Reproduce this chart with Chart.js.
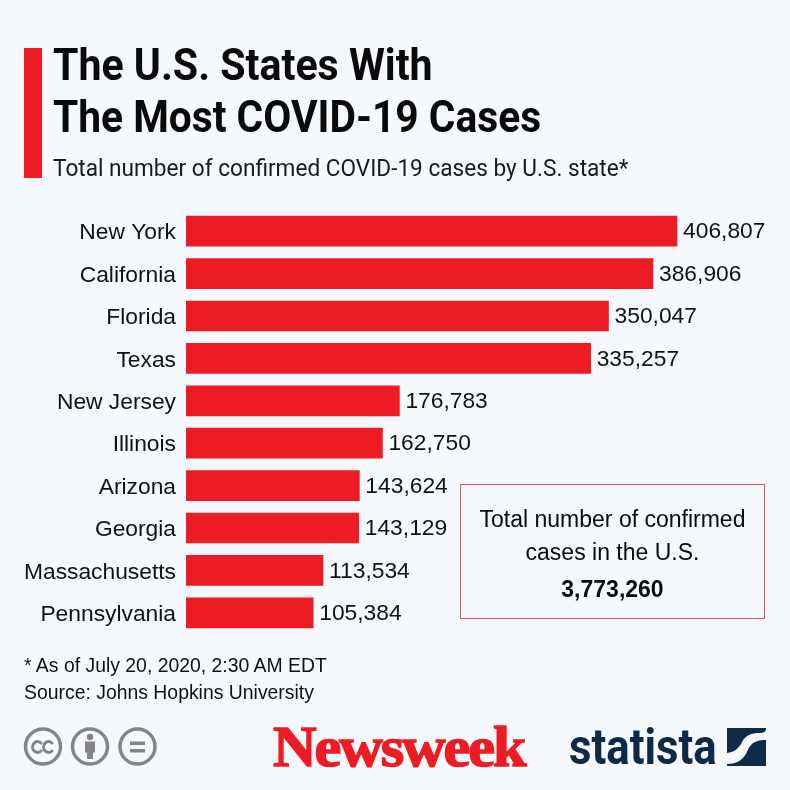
<!DOCTYPE html>
<html>
<head>
<meta charset="utf-8">
<script src="https://cdn.jsdelivr.net/npm/chart.js@4"></script>
<style>
  html, body { margin: 0; padding: 0; background: #f5f8fc; }
  #page { position: relative; width: 790px; height: 790px; overflow: hidden; background: #f5f8fc; color: #0a0a0a; }
  #page > * { position: absolute; }
  canvas { left: 0; top: 0; }
  .redbar { left: 24px; top: 48px; width: 18px; height: 130px; background: #ed1c24; }
  .cond { font-family: Roboto, sans-serif; transform-origin: left top; white-space: nowrap; }
  .title { left: 53px; font-size: 45px; font-weight: 700; line-height: 52px; transform: scaleX(0.905); }
  .subtitle { left: 53px; top: 153px; font-size: 24px; font-weight: 400; line-height: 30px; color: #1a1a1a; transform: scaleX(0.942); }
  .note { left: 24px; font: 19.4px "Liberation Sans", Arial, sans-serif; line-height: 22px; white-space: nowrap; color: #111; }
  .box { left: 460px; top: 484px; width: 303px; height: 133px; border: 1.5px solid #e2505c; text-align: center; font: 23px "Liberation Sans", Arial, sans-serif; }
  .box div { position: absolute; left: 0; right: 0; line-height: 30px; }
  .newsweek { left: 273px; top: 718px; font: 700 58px "Liberation Serif", serif; line-height: 58px; color: #ed1c24; letter-spacing: -2px; transform-origin: left top; transform: scaleX(1.04); white-space: nowrap; -webkit-text-stroke: 1.5px #ed1c24; }
  .statista { left: 569px; top: 718px; font: 700 50px Roboto, sans-serif; line-height: 58px; color: #0f2a47; transform-origin: left top; transform: scaleX(0.875); white-space: nowrap; }
</style>
</head>
<body>
<div id="page">
  <canvas id="casesChart" width="790" height="790"></canvas>
  <div class="redbar"></div>
  <div class="cond title" style="top:39px;transform:scaleX(0.913)">The U.S. States With</div>
  <div class="cond title" style="top:91px">The Most COVID-19 Cases</div>
  <div class="cond subtitle">Total number of confirmed COVID-19 cases by U.S. state*</div>
  <div class="box">
    <div style="top:19px">Total number of confirmed</div>
    <div style="top:52px">cases in the U.S.</div>
    <div style="top:89px;font-weight:700">3,773,260</div>
  </div>
  <div class="note" style="top:654px">* As of July 20, 2020, 2:30 AM EDT</div>
  <div class="note" style="top:681px">Source: Johns Hopkins University</div>
  <svg style="left:0;top:0" width="790" height="790" fill="none">
    <g stroke="#858585" stroke-width="3.5">
      <circle cx="43" cy="746.500" r="17.500"/>
      <circle cx="90" cy="746.500" r="17.500"/>
      <circle cx="137.500" cy="746.500" r="17.500"/>
    </g>
    <g stroke="#858585" stroke-width="3" stroke-linecap="round">
      <path d="M41 743a5 5.500 0 1 0 0 8"/>
      <path d="M52 743a5 5.500 0 1 0 0 8"/>
    </g>
    <g fill="#858585">
      <circle cx="90" cy="737" r="3.200"/>
      <path d="M85 741.500h10v11h-2v6.500h-6v-6.500h-2z"/>
      <rect x="130" y="741.500" width="15" height="3.500"/>
      <rect x="130" y="749" width="15" height="3.500"/>
    </g>
    <path fill="#0f2a47" d="M727 728h39c0 3-1 5-6 5c-9 0-14 2-18 9c-3 6-7 10-15 11z"/>
    <path fill="#0f2a47" d="M766 740v26h-39v-2c10 0 16-4 20-12c3-8 8-12 19-12z"/>
  </svg>
  <div class="newsweek">Newsweek</div>
  <div class="statista">statista</div>
</div>

<script>
const states = ['New York', 'California', 'Florida', 'Texas', 'New Jersey', 'Illinois', 'Arizona', 'Georgia', 'Massachusetts', 'Pennsylvania'];
const cases = [406807, 386906, 350047, 335257, 176783, 162750, 143624, 143129, 113534, 105384];

const FONT = '"Liberation Sans", Arial, sans-serif';
const RED = '#ed1c24';

// value printed right after the end of each bar
const valueLabels = {
  id: 'valueLabels',
  afterDatasetsDraw(chart) {
    const c = chart.ctx;
    c.save();
    c.font = '22.8px ' + FONT;
    c.fillStyle = '#111';
    c.textBaseline = 'middle';
    chart.getDatasetMeta(0).data.forEach((bar, i) => {
      c.fillText(cases[i].toLocaleString('en-US'), bar.x + 6, bar.y + 1);
    });
    c.restore();
  }
};

new Chart(document.getElementById('casesChart'), {
  type: 'bar',
  data: {
    labels: states,
    datasets: [{ data: cases, backgroundColor: RED, barThickness: 30, borderWidth: 0 }]
  },
  options: {
    indexAxis: 'y',
    responsive: false,
    animation: false,
    devicePixelRatio: 1,
    layout: { padding: { top: 210, bottom: 156, left: 0, right: 0 } },
    plugins: { legend: { display: false }, tooltip: { enabled: false } },
    scales: {
      x: { display: false, min: 0, max: 500400 },
      y: {
        afterFit: (scale) => { scale.width = 186; },
        grid: { display: false, drawBorder: false, tickLength: 0 },
        border: { display: false },
        ticks: { color: '#111', padding: 10, labelOffset: 2, font: { family: FONT, size: 22.8 } }
      }
    }
  },
  plugins: [valueLabels]
});
</script>
</body>
</html>
